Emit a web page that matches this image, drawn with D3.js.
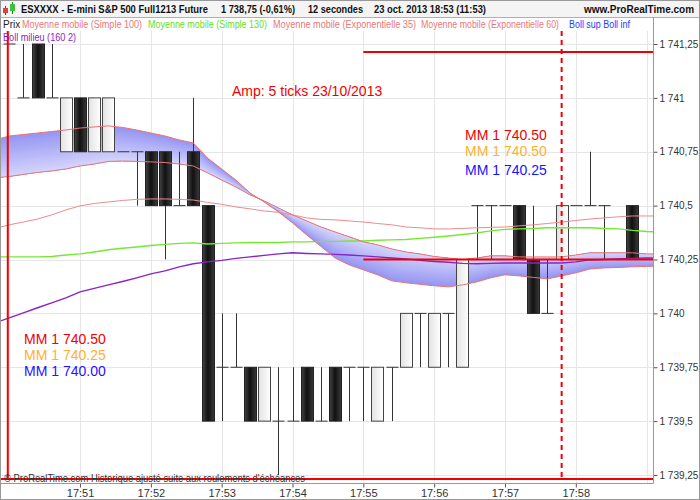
<!DOCTYPE html>
<html>
<head>
<meta charset="utf-8">
<script src="https://cdn.jsdelivr.net/npm/d3@7"></script>
<style>
  body { margin: 0; background: #fff; }
  svg text { font-family: "Liberation Sans", Arial, sans-serif; }
</style>
</head>
<body>
<div id="chart"></div>
<script>
// 12 second bars, index 0 = 17:51:00
const barIndex = d3.range(-5, 40);
const opens = [1741.25, 1741, 1741.25, 1741, 1740.75, 1741, 1740.75, 1740.75, 1740.75, 1740.75,
  1740.75, 1740.75, 1740.5, 1740.75, 1740.5, 1739.75, 1739.75, 1739.75, 1739.5, 1739.5,
  1739.5, 1739.75, 1739.5, 1739.75, 1739.75, 1739.75, 1739.5, 1739.75, 1739.75, 1740,
  1739.75, 1740, 1739.75, 1740.5, 1740.5, 1740.5, 1740.5, 1740.25, 1740, 1740.25,
  1740.5, 1740.5, 1740.5, 1740.25, 1740.5];
const highs = [1741.25, 1741.25, 1741.25, 1741.25, 1741, 1741, 1741, 1741, 1740.75, 1740.75,
  1740.75, 1740.75, 1740.75, 1741, 1740.5, 1740, 1740, 1739.75, 1739.75, 1739.75,
  1739.75, 1739.75, 1739.75, 1739.75, 1739.75, 1739.75, 1739.75, 1739.75, 1740, 1740,
  1740, 1740, 1740.25, 1740.5, 1740.5, 1740.5, 1740.5, 1740.5, 1740.25, 1740.5,
  1740.5, 1740.75, 1740.5, 1740.25, 1740.5];
const lows = [1741.25, 1741, 1741, 1741, 1740.75, 1740.75, 1740.75, 1740.75, 1740.75, 1740.5,
  1740.5, 1740.25, 1740.5, 1740.5, 1739.5, 1739.5, 1739.75, 1739.5, 1739.5, 1739.25,
  1739.5, 1739.5, 1739.5, 1739.5, 1739.5, 1739.5, 1739.5, 1739.5, 1739.75, 1739.75,
  1739.75, 1739.75, 1739.75, 1740.25, 1740.25, 1740.5, 1740.25, 1740, 1740, 1740.25,
  1740.5, 1740.5, 1740.25, 1740.25, 1740.25];
const closes = [1741.25, 1741, 1741, 1741, 1741, 1740.75, 1741, 1741, 1740.75, 1740.75,
  1740.5, 1740.5, 1740.5, 1740.5, 1739.5, 1739.75, 1739.75, 1739.5, 1739.75, 1739.5,
  1739.5, 1739.5, 1739.5, 1739.5, 1739.75, 1739.75, 1739.75, 1739.75, 1740, 1740,
  1740, 1740, 1740.25, 1740.5, 1740.5, 1740.5, 1740.25, 1740, 1740, 1740.5,
  1740.5, 1740.5, 1740.5, 1740.25, 1740.25];

// indicators, index -6 .. 41
const lineIndex = d3.range(-6, 42);
const ema35 = [1740.805, 1740.823, 1740.830, 1740.837, 1740.844, 1740.851, 1740.860, 1740.865, 1740.870, 1740.863,
  1740.851, 1740.837, 1740.823, 1740.805, 1740.791, 1740.721, 1740.670, 1740.619, 1740.559, 1740.517,
  1740.471, 1740.420, 1740.364, 1740.311, 1740.257, 1740.225, 1740.202, 1740.179, 1740.151, 1740.142,
  1740.135, 1740.128, 1740.123, 1740.132, 1740.146, 1740.165, 1740.179, 1740.174, 1740.167, 1740.160,
  1740.174, 1740.188, 1740.206, 1740.211, 1740.213, 1740.216, 1740.218, 1740.220];
const ema60 = [1740.629, 1740.635, 1740.645, 1740.654, 1740.661, 1740.670, 1740.684, 1740.693, 1740.705, 1740.707,
  1740.705, 1740.703, 1740.700, 1740.693, 1740.684, 1740.652, 1740.619, 1740.587, 1740.550, 1740.522,
  1740.489, 1740.457, 1740.429, 1740.401, 1740.378, 1740.355, 1740.332, 1740.318, 1740.299, 1740.285,
  1740.276, 1740.264, 1740.257, 1740.250, 1740.257, 1740.267, 1740.267, 1740.262, 1740.262, 1740.262,
  1740.262, 1740.271, 1740.281, 1740.281, 1740.281, 1740.281, 1740.276, 1740.276];
const sma100 = [1740.394, 1740.411, 1740.424, 1740.438, 1740.457, 1740.480, 1740.499, 1740.510, 1740.517, 1740.524,
  1740.529, 1740.531, 1740.531, 1740.529, 1740.526, 1740.515, 1740.506, 1740.494, 1740.485, 1740.475,
  1740.469, 1740.457, 1740.443, 1740.436, 1740.434, 1740.429, 1740.424, 1740.417, 1740.411, 1740.401,
  1740.397, 1740.392, 1740.392, 1740.394, 1740.397, 1740.399, 1740.401, 1740.406, 1740.411, 1740.417,
  1740.424, 1740.431, 1740.438, 1740.443, 1740.448, 1740.452, 1740.452, 1740.452];
const sma130 = [1740.262, 1740.262, 1740.262, 1740.262, 1740.264, 1740.271, 1740.276, 1740.285, 1740.295, 1740.302,
  1740.308, 1740.315, 1740.320, 1740.325, 1740.327, 1740.322, 1740.325, 1740.327, 1740.329, 1740.329,
  1740.329, 1740.332, 1740.332, 1740.334, 1740.334, 1740.336, 1740.336, 1740.339, 1740.341, 1740.343,
  1740.348, 1740.353, 1740.359, 1740.366, 1740.373, 1740.383, 1740.390, 1740.392, 1740.394, 1740.397,
  1740.397, 1740.397, 1740.397, 1740.394, 1740.392, 1740.385, 1740.380, 1740.378];
const bollMid = [1739.956, 1739.979, 1740.002, 1740.026, 1740.049, 1740.072, 1740.100, 1740.116, 1740.132, 1740.148,
  1740.165, 1740.183, 1740.197, 1740.216, 1740.230, 1740.239, 1740.246, 1740.255, 1740.262, 1740.269,
  1740.276, 1740.281, 1740.278, 1740.276, 1740.274, 1740.271, 1740.267, 1740.262, 1740.257, 1740.253,
  1740.246, 1740.241, 1740.237, 1740.232, 1740.230, 1740.232, 1740.234, 1740.234, 1740.234, 1740.234,
  1740.234, 1740.239, 1740.248, 1740.250, 1740.253, 1740.255, 1740.257, 1740.257];

const priceTicks = [1739.25, 1739.5, 1739.75, 1740, 1740.25, 1740.5, 1740.75, 1741, 1741.25];
const timeTicks = [0, 5, 10, 15, 20, 25, 30, 35];
const timeLabels = ["17:51", "17:52", "17:53", "17:54", "17:55", "17:56", "17:57", "17:58"];
const gridTimes = [-5, 0, 5, 10, 15, 20, 25, 30, 35, 40];

// drawn objects
const levelLines = [
  { price: 1741.213, from: 20 },
  { price: 1740.25, from: 20 },
  { price: 1739.231, from: -6 }
];
const markerBars = [{ at: -5.1, dash: null }, { at: 34, dash: "5,4" }];

const svgWidth = 700;
const svgHeight = 500;
const plot = { left: 0, right: 653, top: 17, bottom: 483 };

const svg = d3.select("#chart")
  .append("svg")
  .attr("width", svgWidth)
  .attr("height", svgHeight);

const defs = svg.append("defs");
defs.append("clipPath").attr("id", "clip")
  .append("rect")
  .attr("x", plot.left).attr("y", plot.top)
  .attr("width", plot.right - plot.left).attr("height", plot.bottom - plot.top);

const gBlack = defs.append("linearGradient").attr("id", "gBlack");
gBlack.append("stop").attr("offset", "0%").attr("stop-color", "#444");
gBlack.append("stop").attr("offset", "45%").attr("stop-color", "#111");
gBlack.append("stop").attr("offset", "100%").attr("stop-color", "#3a3a3a");
const gWhite = defs.append("linearGradient").attr("id", "gWhite");
gWhite.append("stop").attr("offset", "0%").attr("stop-color", "#e2e2e2");
gWhite.append("stop").attr("offset", "100%").attr("stop-color", "#ffffff");

const x = d3.scaleLinear().domain([-5.65, 40.45]).range([plot.left, plot.right]);
const y = d3.scaleLinear().domain([1739.25, 1741.25]).range([475, 44]);

// header
svg.append("rect").attr("x", 0).attr("y", 0).attr("width", svgWidth).attr("height", plot.top)
  .attr("fill", "#f4f4f4");
svg.append("line").attr("x1", 0).attr("x2", svgWidth).attr("y1", plot.top + 0.5).attr("y2", plot.top + 0.5)
  .attr("stroke", "#b0b0b0");

const chartGroup = svg.append("g").attr("clip-path", "url(#clip)");

// grid
chartGroup.selectAll(".hgrid")
  .data(priceTicks)
  .enter()
  .append("line")
  .attr("x1", plot.left).attr("x2", plot.right)
  .attr("y1", d => Math.round(y(d)) + 0.5).attr("y2", d => Math.round(y(d)) + 0.5)
  .attr("stroke", "#e6e6e6");
chartGroup.selectAll(".vgrid")
  .data(gridTimes)
  .enter()
  .append("line")
  .attr("x1", d => Math.round(x(d)) + 0.5).attr("x2", d => Math.round(x(d)) + 0.5)
  .attr("y1", plot.top + 14).attr("y2", plot.bottom)
  .attr("stroke", "#e6e6e6");

// EMA35 / EMA60 cloud, shaded from the EMA35 side to the EMA60 side
const cloudSteps = 30;
const shade = d3.interpolateRgb("#9696f3", "#d6d6fc");
for (let k = 0; k < cloudSteps; k++) {
  const t = k / cloudSteps;
  const area = d3.area()
    .x((d, j) => x(lineIndex[j]))
    .y0((d, j) => y(ema35[j] + (ema60[j] - ema35[j]) * t))
    .y1((d, j) => y(ema60[j]));
  chartGroup.append("path")
    .datum(lineIndex)
    .attr("d", area)
    .attr("fill", shade(t));
}

// candles
const bars = barIndex.map((d, i) => ({ i: d, o: opens[i], h: highs[i], l: lows[i], c: closes[i] }));
const bodyW = 12;

chartGroup.selectAll(".wick")
  .data(bars.filter(d => d.h > d.l))
  .enter()
  .append("line")
  .attr("x1", d => Math.round(x(d.i)) + 0.5).attr("x2", d => Math.round(x(d.i)) + 0.5)
  .attr("y1", d => y(d.h)).attr("y2", d => y(d.l))
  .attr("stroke", "#333");

chartGroup.selectAll(".body")
  .data(bars.filter(d => d.o !== d.c))
  .enter()
  .append("rect")
  .attr("x", d => Math.round(x(d.i)) - bodyW / 2 + 0.5)
  .attr("y", d => y(Math.max(d.o, d.c)))
  .attr("width", bodyW)
  .attr("height", d => Math.abs(y(d.o) - y(d.c)))
  .attr("fill", d => d.c > d.o ? "url(#gWhite)" : "url(#gBlack)")
  .attr("stroke", d => d.c > d.o ? "#444" : "#222");

chartGroup.selectAll(".doji")
  .data(bars.filter(d => d.o === d.c))
  .enter()
  .append("line")
  .attr("x1", d => Math.round(x(d.i)) - bodyW / 2 + 0.5)
  .attr("x2", d => Math.round(x(d.i)) + bodyW / 2 + 0.5)
  .attr("y1", d => y(d.o)).attr("y2", d => y(d.o))
  .attr("stroke", "#333");

// indicator lines
function drawLine(values, color, w) {
  chartGroup.append("path")
    .datum(values)
    .attr("d", d3.line().x((d, j) => x(lineIndex[j])).y(d => y(d)))
    .attr("fill", "none")
    .attr("stroke", color)
    .attr("stroke-width", w);
}
drawLine(sma100, "#ec8c8c", 1);
drawLine(sma130, "#74e834", 1.4);
drawLine(bollMid, "#8a22c8", 1.4);
drawLine(ema60, "#e87474", 1);
drawLine(ema35, "#e87474", 1);

// drawn level lines and markers
chartGroup.selectAll(".level")
  .data(levelLines)
  .enter()
  .append("line")
  .attr("x1", d => x(d.from)).attr("x2", plot.right)
  .attr("y1", d => y(d.price)).attr("y2", d => y(d.price))
  .attr("stroke", "#f00000")
  .attr("stroke-width", 2);

chartGroup.selectAll(".marker")
  .data(markerBars)
  .enter()
  .append("line")
  .attr("x1", d => x(d.at)).attr("x2", d => x(d.at))
  .attr("y1", plot.top + 14).attr("y2", y(1739.231))
  .attr("stroke", "#f00000")
  .attr("stroke-width", 2)
  .attr("stroke-dasharray", d => d.dash);

// axes
const rightAxis = d3.axisRight(y)
  .tickValues(priceTicks)
  .tickSize(4)
  .tickFormat(d => {
    const s = d.toFixed(2).replace(/0+$/, "").replace(/\.$/, "");
    const parts = s.split(".");
    const intPart = parts[0].replace(/\B(?=(\d{3})+(?!\d))/g, " ");
    return parts.length > 1 ? intPart + "," + parts[1] : intPart;
  });
const yAxisG = svg.append("g")
  .attr("transform", `translate(${plot.right + 0.5}, 0)`)
  .call(rightAxis);
yAxisG.select(".domain").remove();
yAxisG.selectAll("line").attr("stroke", "#555");
yAxisG.selectAll("text").attr("fill", "#333").style("font-size", "10px")
  .style("font-family", "'Liberation Sans', Arial, sans-serif").attr("x", 6);

const bottomAxis = d3.axisBottom(x)
  .tickValues(timeTicks)
  .tickSize(4)
  .tickFormat((d, i) => timeLabels[i]);
const xAxisG = svg.append("g")
  .attr("transform", `translate(0, ${plot.bottom + 0.5})`)
  .call(bottomAxis);
xAxisG.select(".domain").remove();
xAxisG.selectAll("line").attr("stroke", "#555");
xAxisG.selectAll("text").attr("fill", "#333").style("font-size", "11px")
  .style("font-family", "'Liberation Sans', Arial, sans-serif").attr("y", 6);

// frame
svg.append("line").attr("x1", plot.left).attr("x2", plot.right + 0.5)
  .attr("y1", plot.bottom + 0.5).attr("y2", plot.bottom + 0.5).attr("stroke", "#999");
svg.append("line").attr("x1", plot.right + 0.5).attr("x2", plot.right + 0.5)
  .attr("y1", plot.top).attr("y2", plot.bottom + 0.5).attr("stroke", "#999");
svg.append("rect").attr("x", 0.5).attr("y", 0.5).attr("width", svgWidth - 1).attr("height", svgHeight - 1)
  .attr("fill", "none").attr("stroke", "#999");

// text helpers
function fit(sel, w) {
  const n = sel.node().getComputedTextLength();
  if (Math.abs(n - w) > 2) sel.attr("textLength", w).attr("lengthAdjust", "spacingAndGlyphs");
  return sel;
}
function label(t, px, py, size, color, w, weight) {
  const s = svg.append("text")
    .attr("x", px).attr("y", py)
    .style("font-size", size + "px")
    .style("font-weight", weight || "normal")
    .attr("fill", color)
    .text(t);
  if (w) fit(s, w);
  return s;
}

// header icon
const icon = svg.append("g");
icon.append("line").attr("x1", 5.5).attr("x2", 5.5).attr("y1", 6).attr("y2", 15).attr("stroke", "#a02020");
icon.append("rect").attr("x", 3).attr("y", 8).attr("width", 5).attr("height", 5).attr("fill", "#e04040");
icon.append("line").attr("x1", 12.5).attr("x2", 12.5).attr("y1", 2).attr("y2", 14).attr("stroke", "#208020");
icon.append("rect").attr("x", 10).attr("y", 4).attr("width", 5).attr("height", 7).attr("fill", "#40c040");

// header texts
label("ESXXXX - E-mini S&P 500 Full1213 Future", 21, 13, 10, "#111", 187, "bold");
label("1 738,75 (-0,61%)", 221, 13, 10, "#111", 74, "bold");
label("12 secondes", 308, 13, 10, "#111", 55, "bold");
label("23 oct. 2013 18:53 (11:53)", 374, 13, 10, "#111", 112, "bold");
label("www.ProRealTime.com", 584, 13, 10, "#111", 109, "bold");

// legend
label("Prix", 3, 28, 10, "#222", 16);
label("Moyenne mobile (Simple 100)", 22, 28, 10, "#e87878", 120);
label("Moyenne mobile (Simple 130)", 148, 28, 10, "#66e022", 119);
label("Moyenne mobile (Exponentielle 35)", 273, 28, 10, "#e87878", 143);
label("Moyenne mobile (Exponentielle 60)", 421, 28, 10, "#e87878", 138);
label("Boll sup Boll inf", 569, 28, 10, "#1e3cff", 61);
label("Boll milieu (160 2)", 3, 41, 10, "#8a22c8", 73);

// annotations
label("Amp: 5 ticks 23/10/2013", 232, 96, 14, "#f00000", 149);
label("MM 1 740.50", 465, 140, 14, "#f00000", 82);
label("MM 1 740.50", 465, 156, 14, "#ffb030", 82);
label("MM 1 740.25", 465, 175, 14, "#1414ff", 82);
label("MM 1 740.50", 24, 344, 14, "#f00000", 82);
label("MM 1 740.25", 24, 360, 14, "#ffb030", 82);
label("MM 1 740.00", 24, 376, 14, "#2a10ff", 82);

// footer
label("\u00a9 ProRealTime.com Historique ajust\u00e9 suite aux roulements d'\u00e9ch\u00e9ances", 4, 482, 10.5, "#333", 301);
</script>
</body>
</html>
